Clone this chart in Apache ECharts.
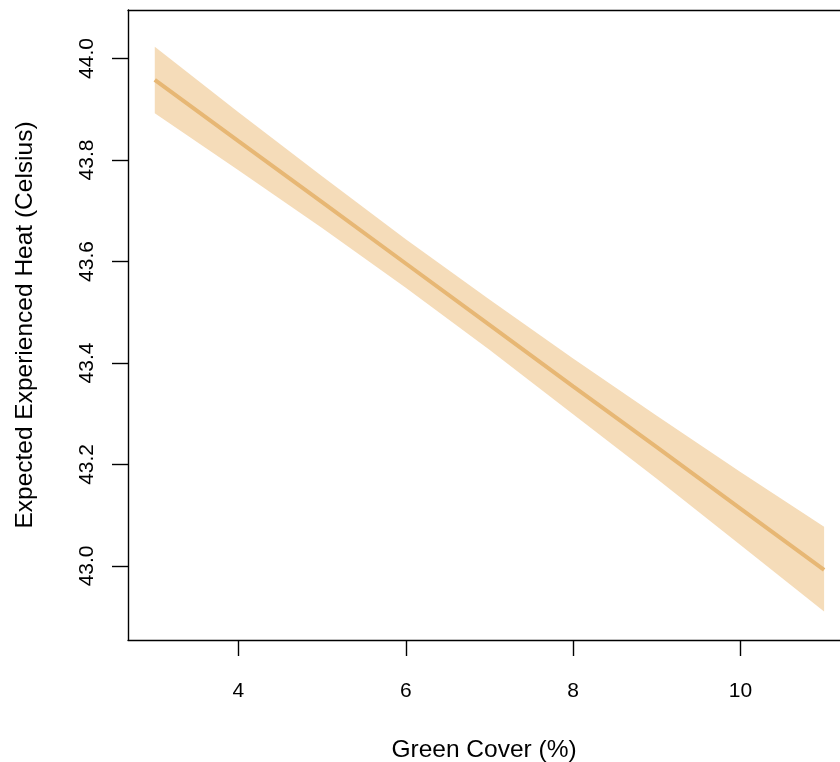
<!DOCTYPE html>
<html>
<head>
<meta charset="utf-8">
<script src="https://cdn.jsdelivr.net/npm/echarts@6/dist/echarts.min.js"></script>
<style>
  html, body { margin: 0; padding: 0; background: #ffffff; }
  #chart { width: 840px; height: 762px; }
</style>
</head>
<body>
<div id="chart"></div>
<script>
// Green cover (%) at which the fitted model is evaluated
const greenCover = [3, 4, 5, 6, 7, 8, 9, 10, 11];
// Expected experienced heat (Celsius): fitted line
const fitHeat = [43.958, 43.837, 43.717, 43.596, 43.475, 43.354, 43.234, 43.113, 42.992];
// Confidence band, upper and lower bounds
const upperHeat = [44.023, 43.894, 43.768, 43.644, 43.525, 43.409, 43.296, 43.185, 43.077];
const lowerHeat = [43.892, 43.780, 43.666, 43.548, 43.426, 43.299, 43.172, 43.041, 42.910];
// Tick positions
const xTicks = [4, 6, 8, 10];
const yTicks = [43.0, 43.2, 43.4, 43.6, 43.8, 44.0];

const FONT = '"Liberation Sans", Arial, Helvetica, sans-serif';
const xMin = 2.68, xMax = 11.19;
const yMin = 42.854, yMax = 44.0956;

const chart = echarts.init(document.getElementById('chart'), null, { renderer: 'canvas' });

const bandData = greenCover.map((x, i) => [x, lowerHeat[i], upperHeat[i]]);

chart.setOption({
  animation: false,
  backgroundColor: '#ffffff',
  grid: { left: 128, top: 10, right: 0, bottom: 122, containLabel: false, outerBoundsMode: 'none' },
  xAxis: [{
    type: 'value',
    position: 'bottom',
    min: xMin, max: xMax,
    name: 'Green Cover (%)',
    nameLocation: 'middle',
    nameGap: 98,
    nameTextStyle: { fontFamily: FONT, fontSize: 24.5, color: '#000' },
    splitLine: { show: false },
    axisLine: { show: true, onZero: false, lineStyle: { color: '#000', width: 1.4 } },
    axisTick: { show: true, customValues: xTicks, length: 16, lineStyle: { color: '#000', width: 1.4 } },
    axisLabel: { customValues: xTicks, margin: 41, fontFamily: FONT, fontSize: 21, color: '#000' }
  }, {
    type: 'value',
    position: 'top',
    min: xMin, max: xMax,
    splitLine: { show: false },
    axisLine: { show: true, onZero: false, lineStyle: { color: '#000', width: 1.4 } },
    axisTick: { show: false },
    axisLabel: { show: false }
  }],
  yAxis: {
    type: 'value',
    min: yMin, max: yMax,
    name: 'Expected Experienced Heat (Celsius)',
    nameLocation: 'middle',
    nameRotate: 90,
    nameGap: 90,
    nameTextStyle: { fontFamily: FONT, fontSize: 24.5, color: '#000' },
    splitLine: { show: false },
    axisLine: { show: true, onZero: false, lineStyle: { color: '#000', width: 1.4 } },
    axisTick: { show: true, customValues: yTicks, length: 16, lineStyle: { color: '#000', width: 1.4 } },
    axisLabel: {
      customValues: yTicks,
      rotate: 90,
      margin: 30,
      fontFamily: FONT, fontSize: 21, color: '#000',
      formatter: v => v.toFixed(1)
    }
  },
  series: [{
    type: 'custom',
    name: 'band',
    data: bandData,
    encode: { x: 0, y: [1, 2] },
    silent: true,
    z: 1,
    renderItem: function (params, api) {
      if (params.dataIndex !== 0) return null;
      const pts = [];
      for (let i = 0; i < greenCover.length; i++) pts.push(api.coord([greenCover[i], upperHeat[i]]));
      for (let i = greenCover.length - 1; i >= 0; i--) pts.push(api.coord([greenCover[i], lowerHeat[i]]));
      return {
        type: 'polygon',
        shape: { points: pts },
        style: { fill: '#f5dcb9', stroke: null }
      };
    }
  }, {
    type: 'line',
    name: 'fit',
    data: greenCover.map((x, i) => [x, fitHeat[i]]),
    showSymbol: false,
    silent: true,
    z: 2,
    lineStyle: { color: '#e7b774', width: 4, cap: 'butt' }
  }]
});
</script>
</body>
</html>
